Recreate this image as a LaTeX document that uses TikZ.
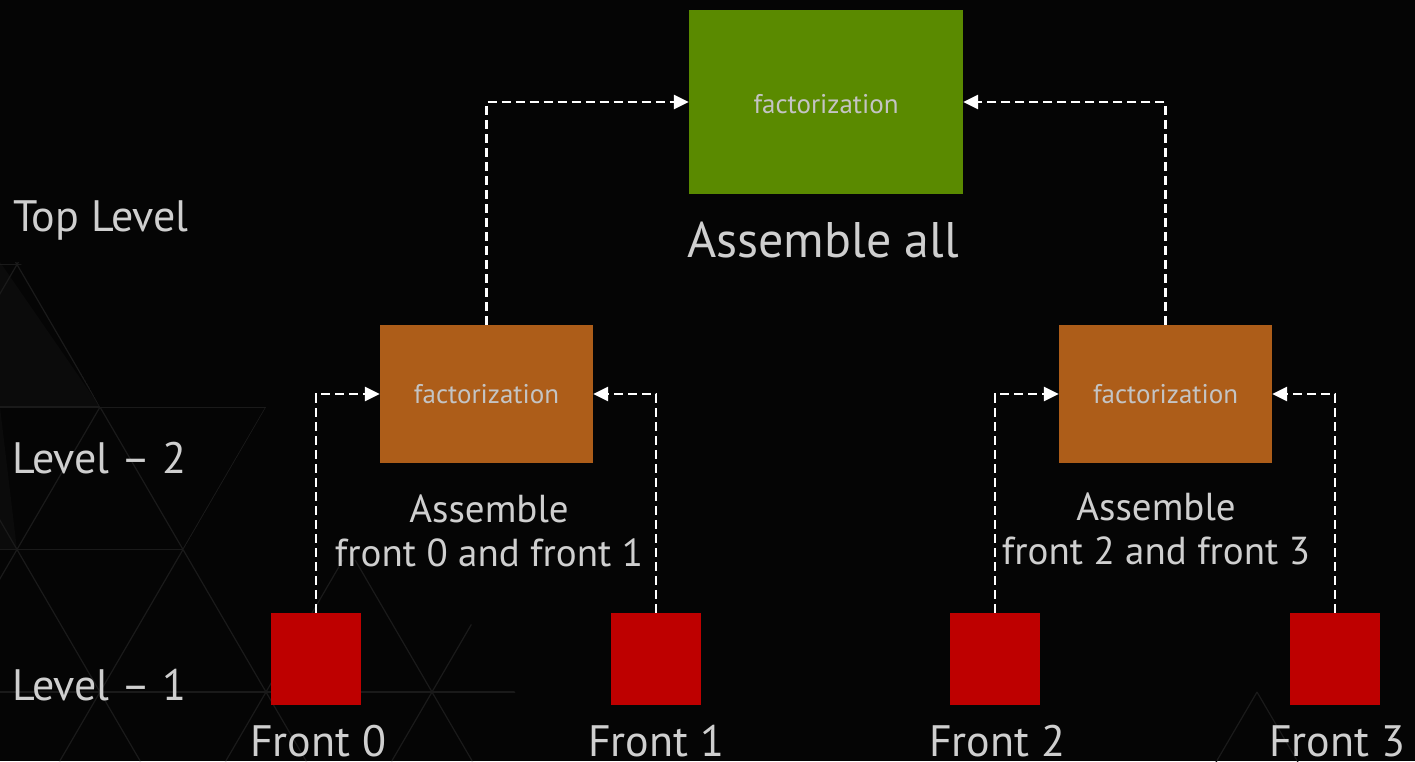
\documentclass[tikz,border=0pt]{standalone}
\usepackage{fontspec}
\setmainfont{PT Sans}
\usetikzlibrary{arrows.meta}
\definecolor{bgcol}{HTML}{050505}
\definecolor{gridcol}{HTML}{1A1A1A}
\definecolor{shadecol}{HTML}{0B0B0B}
\definecolor{topgreen}{HTML}{5A8A00}
\definecolor{midorange}{HTML}{AD5D19}
\definecolor{leafred}{HTML}{BE0000}
\definecolor{labelgray}{HTML}{CFCFCF}
\definecolor{boxtext}{HTML}{C4C4C4}
\tikzset{
  box/.style={draw=none, inner sep=0pt, text=boxtext, font=\fontsize{27}{30}\selectfont},
  rootbox/.style={box, fill=topgreen, minimum width=274pt, minimum height=184pt},
  midbox/.style={box, fill=midorange, minimum width=213pt, minimum height=138pt},
  leafbox/.style={box, fill=leafred, minimum width=90pt, minimum height=92pt},
  lvl/.style={anchor=west, text=labelgray, inner sep=0pt, font=\fontsize{44}{48}\selectfont},
  caption/.style={text=labelgray, inner sep=0pt, align=center},
  gridline/.style={gridcol, line width=1.2pt},
  conn/.style={draw=white, line width=2.6pt, dash pattern=on 9pt off 5pt,
    -{Triangle[length=15pt,width=14pt,fill=white]}}
}
\begin{document}
\begin{tikzpicture}[x=1pt,y=-1pt]
  % page and background
  \fill[bgcol] (0,0) rectangle (1415,761);
  \useasboundingbox (0,0) rectangle (1415,761);

  % faint triangular grid in the lower left corner
  \begin{scope}
    \clip (0,262) -- (20,262) -- (100,407) -- (266,407) -- (183,550) -- (330,560)
      -- (430,560) -- (520,700) -- (520,761) -- (0,761) -- cycle;
    \fill[shadecol] (0,262) -- (100,407) -- (0,407) -- cycle;
    \fill[shadecol] (0,407) -- (17,549.5) -- (0,549.5) -- cycle;
    \foreach \y in {264.5,407,549.5,692} {
      \draw[gridline] (-10,\y) -- (600,\y);
    }
    \foreach \k in {-6,...,6} {
      \draw[gridline] ({100+166*\k-83*2},{407-142.5*2}) -- ({100+166*\k+83*4},{407+142.5*4});
      \draw[gridline] ({100+166*\k+83*2},{407-142.5*2}) -- ({100+166*\k-83*4},{407+142.5*4});
    }
  \end{scope}
  \begin{scope}
    \clip (1150,680) rectangle (1415,761);
    \draw[gridline] (1257,692) -- ({1257-45},{692+77});
    \draw[gridline] (1257,692) -- ({1257+45},{692+77});
  \end{scope}

  % level labels
  \node[lvl] (ltop) at (13,220) {Top Level};
  \node[lvl] (lmid) at (12,458) {Level – 2};
  \node[lvl] (lbot) at (12,685) {Level – 1};

  % boxes
  \node[rootbox] (root) at (826,102) {};
  \node[box] (rootText) at (826,104) {factorization};
  \node[midbox] (mL) at (486.5,394) {factorization};
  \node[midbox] (mR) at (1165.5,394) {factorization};
  \node[leafbox] (f0) at (316,659) {};
  \node[leafbox] (f1) at (656,659) {};
  \node[leafbox] (f2) at (995,659) {};
  \node[leafbox] (f3) at (1335,659) {};

  % captions
  \node[caption, font=\fontsize{50}{54}\selectfont] (capRoot) at (823,240) {Assemble all};
  \node[caption, font=\fontsize{39}{44}\selectfont] (capL) at (489,531) {Assemble\\front 0 and front 1};
  \node[caption, font=\fontsize{39}{44}\selectfont] (capR) at (1156,529) {Assemble\\front 2 and front 3};
  \node[caption, font=\fontsize{44}{48}\selectfont] (n0) at (318,741) {Front 0};
  \node[caption, font=\fontsize{44}{48}\selectfont] (n1) at (656,741) {Front 1};
  \node[caption, font=\fontsize{44}{48}\selectfont] (n2) at (997,741) {Front 2};
  \node[caption, font=\fontsize{44}{48}\selectfont] (n3) at (1337,741) {Front 3};

  % connectors
  \draw[conn] (mL.north) |- (root.west);
  \draw[conn] (mR.north) |- (root.east);
  \draw[conn] (f0.north) |- (mL.west);
  \draw[conn] (f1.north) |- (mL.east);
  \draw[conn] (f2.north) |- (mR.west);
  \draw[conn] (f3.north) |- (mR.east);
\end{tikzpicture}
\end{document}
